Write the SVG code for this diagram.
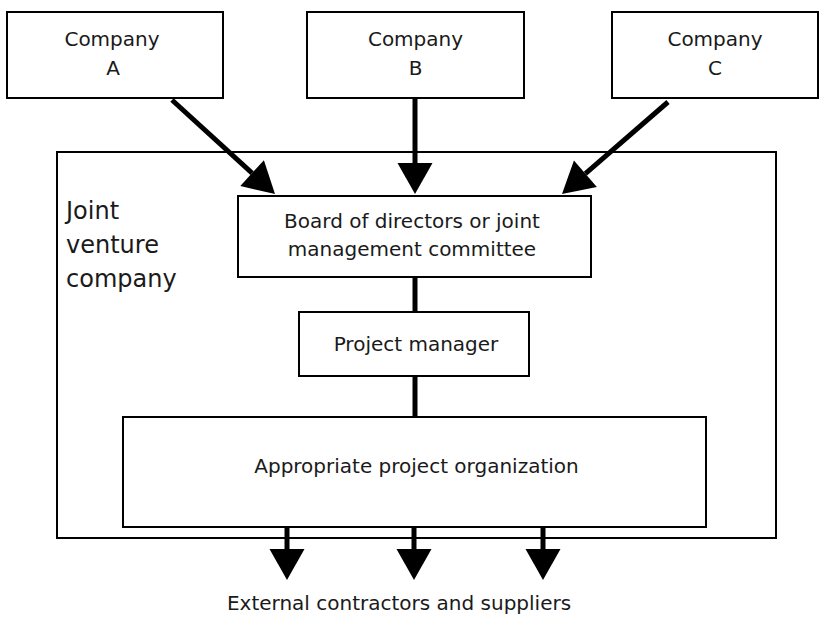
<svg xmlns="http://www.w3.org/2000/svg" width="819" height="620" viewBox="0 0 819 620">
<style>
.box{fill:#fff;stroke:#000;stroke-width:2}
.t{font-family:"DejaVu Sans",Verdana,sans-serif;font-size:20px;fill:#1a1a1a;text-anchor:middle}
.big{font-family:"DejaVu Sans",Verdana,sans-serif;font-size:24px;fill:#1a1a1a}
.c{stroke:#000;stroke-width:5;fill:none}
</style>
<defs>
<marker id="ah" markerUnits="userSpaceOnUse" markerWidth="32" markerHeight="36" refX="0" refY="17.5" orient="auto" overflow="visible">
<path d="M0,0 L31,17.5 L0,35 z" fill="#000"/>
</marker>
</defs>
<rect width="819" height="620" fill="#fff"/>
<g id="jv">
<rect class="box" x="57" y="152" width="719" height="386"/>
<text class="big" x="66" y="219">Joint</text>
<text class="big" x="66" y="253">venture</text>
<text class="big" x="66" y="287">company</text>
</g>
<g id="companyA">
<rect class="box" x="7" y="12" width="216" height="86"/>
<text class="t" x="112" y="46">Company</text>
<text class="t" x="113" y="75">A</text>
</g>
<g id="companyB">
<rect class="box" x="307" y="12" width="217" height="86"/>
<text class="t" x="415.5" y="46">Company</text>
<text class="t" x="415.5" y="75">B</text>
</g>
<g id="companyC">
<rect class="box" x="612" y="12" width="206" height="86"/>
<text class="t" x="715" y="46">Company</text>
<text class="t" x="715" y="75">C</text>
</g>
<g id="connectors">
<line class="c" x1="172" y1="100" x2="252.1" y2="173.1" marker-end="url(#ah)"/>
<line class="c" x1="415" y1="99" x2="415" y2="163" marker-end="url(#ah)"/>
<line class="c" x1="668" y1="102" x2="585.4" y2="173.7" marker-end="url(#ah)"/>
<line class="c" x1="415" y1="277" x2="415" y2="312"/>
<line class="c" x1="415" y1="376" x2="415" y2="417"/>
<line class="c" x1="287" y1="527" x2="287" y2="549" marker-end="url(#ah)"/>
<line class="c" x1="414" y1="527" x2="414" y2="549" marker-end="url(#ah)"/>
<line class="c" x1="543" y1="527" x2="543" y2="549" marker-end="url(#ah)"/>
</g>
<g id="board">
<rect class="box" x="238" y="196" width="353" height="81"/>
<text class="t" x="412" y="228">Board of directors or joint</text>
<text class="t" x="412" y="256">management committee</text>
</g>
<g id="pm">
<rect class="box" x="299" y="312" width="230" height="64"/>
<text class="t" x="416" y="351">Project manager</text>
</g>
<g id="org">
<rect class="box" x="123" y="417" width="583" height="110"/>
<text class="t" x="416.5" y="473">Appropriate project organization</text>
</g>
<g id="external">
<text class="t" x="399" y="610">External contractors and suppliers</text>
</g>
</svg>
